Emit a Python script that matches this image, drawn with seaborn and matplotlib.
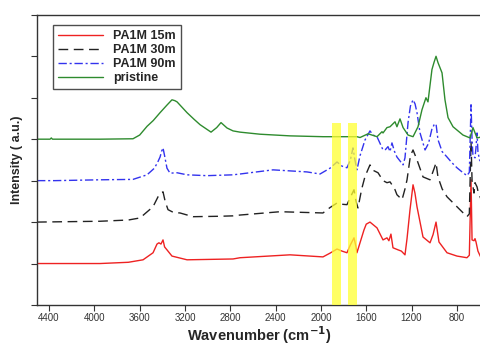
import numpy as np
import pandas as pd
import seaborn as sns
import matplotlib.pyplot as plt

# FTIR spectra, offset by one unit each
wn_pristine = [4506, 4391, 4380, 4370, 3950, 3659, 3600, 3535, 3480, 3420, 3360, 3315, 3290, 3270,
               3182, 3120, 3067, 2970, 2920, 2882, 2829, 2776, 2714, 2538, 2273, 1982, 1682, 1655,
               1584, 1505, 1461, 1452, 1417, 1390, 1346, 1329, 1302, 1275, 1231, 1187, 1143, 1108,
               1073, 1055, 1020, 1002, 984, 967, 931, 905, 878, 834, 746, 684, 658, 622, 587]
int_pristine = [4.0, 4.0, 4.03, 4.0, 4.0, 4.01, 4.1, 4.31, 4.45, 4.64, 4.82, 4.95, 4.93, 4.9,
                4.64, 4.48, 4.35, 4.17, 4.28, 4.4, 4.27, 4.2, 4.17, 4.12, 4.08, 4.06, 4.06, 4.04,
                4.13, 4.06, 4.18, 4.15, 4.28, 4.3, 4.42, 4.3, 4.49, 4.28, 4.1, 4.06, 4.3, 4.71,
                5.0, 4.9, 5.68, 5.85, 6.0, 5.85, 5.6, 4.95, 4.52, 4.3, 4.1, 4.03, 4.28, 4.03, 4.05]

wn_90 = [4506, 4347, 3950, 3659, 3535, 3470, 3440, 3420, 3405, 3394, 3380, 3359, 3332, 3270,
         3182, 3006, 2776, 2714, 2423, 2123, 2008, 1920, 1858, 1814, 1770, 1740, 1717, 1700,
         1682, 1655, 1611, 1567, 1540, 1505, 1452, 1430, 1408, 1390, 1373, 1350, 1329, 1275,
         1258, 1231, 1210, 1187, 1169, 1152, 1125, 1081, 1050, 1020, 1000, 984, 967, 930,
         887, 843, 799, 750, 711, 690, 675, 666, 658, 640, 631, 622, 614, 600, 587]
int_90 = [3.0, 3.0, 3.02, 3.03, 3.14, 3.3, 3.45, 3.57, 3.72, 3.79, 3.6, 3.3, 3.18, 3.19,
          3.14, 3.12, 3.14, 3.16, 3.26, 3.21, 3.16, 3.3, 3.45, 3.35, 3.31, 3.5, 3.79, 3.5,
          3.26, 3.6, 3.98, 4.2, 4.1, 4.06, 3.74, 3.75, 3.82, 3.7, 3.91, 3.7, 3.57, 3.38,
          3.55, 4.4, 4.8, 4.95, 4.85, 4.64, 4.15, 3.74, 3.9, 4.25, 4.35, 4.37, 3.99, 3.7,
          3.57, 3.43, 3.31, 3.2, 3.12, 3.2, 4.83, 4.0, 3.6, 3.55, 3.8, 4.15, 3.7, 3.5, 3.45]

wn_30 = [4506, 3950, 3700, 3597, 3482, 3438, 3410, 3394, 3375, 3350, 3300, 3244, 3129, 2900,
         2776, 2714, 2361, 1982, 1920, 1858, 1814, 1770, 1740, 1708, 1690, 1673, 1640, 1611,
         1567, 1540, 1496, 1452, 1417, 1390, 1373, 1346, 1329, 1284, 1258, 1240, 1210, 1187,
         1152, 1099, 1037, 1000, 984, 967, 930, 887, 799, 711, 690, 675, 666, 649, 640, 622,
         614, 587]
int_30 = [2.0, 2.02, 2.05, 2.1, 2.37, 2.61, 2.7, 2.73, 2.5, 2.3, 2.23, 2.22, 2.13, 2.14,
          2.15, 2.17, 2.25, 2.22, 2.35, 2.46, 2.43, 2.42, 2.6, 2.78, 2.5, 2.34, 2.8, 3.1,
          3.38, 3.25, 3.19, 3.0, 2.95, 2.97, 2.9, 2.78, 2.66, 2.54, 2.8, 3.02, 3.6, 3.74,
          3.5, 3.09, 3.02, 3.3, 3.43, 3.09, 2.8, 2.61, 2.37, 2.13, 2.2, 3.95, 3.0, 2.7, 2.95, 2.85,
          2.75, 2.55]

wn_15 = [4506, 3950, 3700, 3570, 3482, 3447, 3430, 3412, 3394, 3380, 3359, 3315, 3182, 2776,
         2714, 2273, 1982, 1920, 1858, 1814, 1770, 1740, 1708, 1690, 1682, 1655, 1620, 1600,
         1567, 1505, 1452, 1417, 1400, 1382, 1364, 1319, 1290, 1258, 1240, 1214, 1187, 1170,
         1152, 1099, 1037, 1010, 984, 958, 887, 799, 711, 690, 675, 666, 649, 640, 631, 614, 587]
int_15 = [1.0, 1.0, 1.03, 1.09, 1.26, 1.47, 1.5, 1.47, 1.57, 1.4, 1.33, 1.18, 1.09, 1.11,
          1.14, 1.21, 1.16, 1.25, 1.35, 1.3, 1.26, 1.45, 1.62, 1.4, 1.26, 1.5, 1.81, 1.95,
          2.0, 1.86, 1.57, 1.62, 1.55, 1.71, 1.38, 1.33, 1.3, 1.21, 1.6, 2.29, 2.9, 2.7,
          2.37, 1.64, 1.5, 1.7, 2.0, 1.52, 1.26, 1.18, 1.14, 1.2, 3.02, 1.57, 1.55, 1.6, 1.52, 1.3, 1.14]

labels = ['PA1M 15m', 'PA1M 30m', 'PA1M 90m', 'pristine']
colors = ['#ee2222', '#222222', '#3333ee', '#2e8b2e']
styles = ['-', (0, (7, 4)), (0, (6, 2, 1.5, 2)), '-']

# highlighted bands (cm-1)
bands = [(1820, 1900), (1680, 1760)]
band_top = 4.4

sns.set_style('ticks')
plt.rcParams['font.family'] = ['Liberation Sans', 'DejaVu Sans']

fig = plt.figure(figsize=(4.81, 3.45), dpi=100)
ax = fig.add_axes([0.077, 0.116, 0.923, 0.841])

series = [(wn_15, int_15), (wn_30, int_30), (wn_90, int_90), (wn_pristine, int_pristine)]
for (w, v), lab, c, ls in zip(series, labels, colors, styles):
    d = pd.DataFrame({'wn': w, 'inten': v})
    sns.lineplot(data=d, x='wn', y='inten', ax=ax, color=c, linestyle=ls,
                 linewidth=1.0, label=lab, sort=False, estimator=None)

for lo, hi in bands:
    ax.fill_between([lo, hi], 0, band_top, color='#ffff30', alpha=0.75, lw=0, zorder=5)

ax.set_xlim(4506, 587)
ax.set_ylim(0, 7)
ax.set_xticks(np.arange(4400, 799, -400))
ax.set_yticks(np.arange(0, 8, 1))
ax.set_yticklabels([])
ax.tick_params(axis='both', direction='out', length=4, width=0.8, color='#333333',
               labelsize=7, labelcolor='#333333', pad=2)
for s in ['left', 'bottom', 'top']:
    ax.spines[s].set_color('#333333')
    ax.spines[s].set_linewidth(1.0)
ax.spines['right'].set_visible(False)

ax.set_xlabel('Wavenumber (cm$^{\\mathbf{-1}}$)', fontsize=10.5, fontweight='bold', labelpad=1)
ax.set_ylabel('Intensity ( a.u.)', fontsize=9, fontweight='bold', labelpad=4)

leg = ax.legend(loc='upper left', bbox_to_anchor=(0.022, 0.985), frameon=True, fancybox=False,
                edgecolor='#222222', handlelength=3.6, borderpad=0.4, labelspacing=0.15,
                prop={'weight': 'bold', 'size': 9})
leg.get_frame().set_linewidth(1.0)

fig.savefig('out.png', dpi=100)
